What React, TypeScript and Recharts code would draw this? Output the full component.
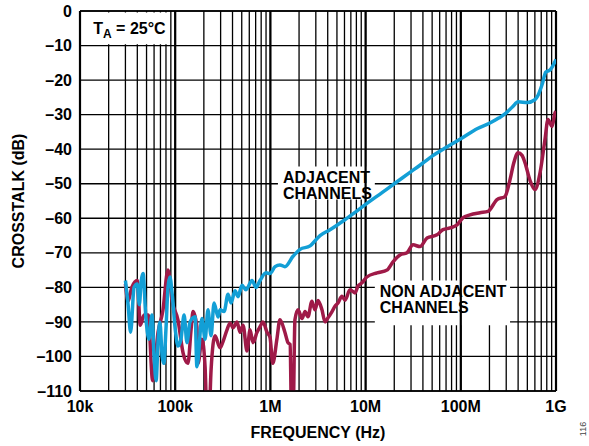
import {
    LineChart,
    Line,
    XAxis,
    YAxis,
    CartesianGrid,
    ReferenceLine,
    ReferenceArea,
} from "recharts";

// decade ticks on the frequency axis
const decades = [1e4, 1e5, 1e6, 1e7, 1e8, 1e9];
const decadeLabels = ["10k", "100k", "1M", "10M", "100M", "1G"];
const dbTicks = [0, -10, -20, -30, -40, -50, -60, -70, -80, -90, -100, -110];

// adjacent channels (blue)
const adjFreq = [
    30e3, 32e3, 34e3, 37e3, 40e3, 42e3, 44e3, 46e3, 49e3, 53e3,
    57e3, 60e3, 63e3, 66e3, 69e3, 73e3, 76e3, 80e3, 84e3, 88e3,
    93e3, 100e3, 107e3, 115e3, 124e3, 133e3, 143e3, 162e3, 169e3, 191e3,
    206e3, 221e3, 238e3, 256e3, 282e3, 296e3, 326e3, 359e3, 386e3, 425e3,
    457e3, 503e3, 554e3, 641e3, 706e3, 778e3, 899e3, 990e3, 1.12e6, 1.26e6,
    1.42e6, 1.73e6, 2.05e6, 2.61e6, 3.32e6, 4.23e6, 5e6, 6e6, 8e6, 10e6,
    15e6, 20e6, 30e6, 40e6, 50e6, 70e6, 100e6, 150e6, 200e6, 250e6,
    300e6, 350e6, 400e6, 500e6, 600e6, 650e6, 720e6, 780e6, 870e6, 1e9,
];
const adjDb = [
    -78, -85, -93, -80, -79, -85, -78, -76, -88, -95,
    -88, -100, -107, -96, -90, -100, -102, -92, -80, -77,
    -82, -92, -97, -95, -88, -96, -90, -88.5, -103, -89,
    -95, -86.5, -94, -84.5, -88.6, -86.5, -87, -82, -84.5, -81,
    -82.7, -79.4, -80.7, -78, -80, -78, -75.8, -76, -74, -73.5,
    -74, -71, -69, -68, -65, -63.3, -62, -60.5, -58, -56,
    -52.5, -50, -46.5, -44, -42, -39.5, -37, -34, -32.5, -31,
    -29.5, -27.7, -26.3, -26.5, -25.7, -24.3, -21, -17.7, -17, -14,
];

// non adjacent channels (maroon)
const nonAdjFreq = [
    30e3, 32e3, 35e3, 40e3, 43e3, 47e3, 52e3, 58e3, 66e3, 74e3,
    84e3, 93e3, 107e3, 121e3, 136e3, 147e3, 154e3, 169e3, 174e3, 191e3,
    206e3, 216e3, 226e3, 238e3, 262e3, 296e3, 318e3, 350e3, 377e3, 405e3,
    446e3, 480e3, 516e3, 568e3, 611e3, 657e3, 723e3, 778e3, 836e3, 921e3,
    990e3, 1.06e6, 1.17e6, 1.26e6, 1.42e6, 1.53e6, 1.61e6, 1.67e6, 1.73e6, 1.81e6,
    1.95e6, 2.15e6, 2.31e6, 2.48e6, 2.73e6, 2.94e6, 3.16e6, 3.48e6, 3.75e6, 4.03e6,
    4.44e6, 4.77e6, 5.13e6, 5.65e6, 6.08e6, 6.86e6, 7.74e6, 8.32e6, 9.17e6, 10.3e6,
    13.2e6, 16.8e6, 19.4e6, 23e6, 27.2e6, 31.5e6, 37.3e6, 44.2e6, 56.2e6, 65e6,
    77.1e6, 91.2e6, 105e6, 125e6, 159e6, 193e6, 240e6, 291e6, 329e6, 360e6,
    399e6, 440e6, 472e6, 533e6, 601e6, 679e6, 766e6, 824e6, 908e6, 977e6,
    1e9,
];
const nonAdjDb = [
    -79, -84, -80, -78, -91, -88, -88, -107, -93, -87,
    -75, -84, -89.5, -99, -102, -92, -87, -91.4, -102, -95,
    -103, -118, -118, -104, -94, -97.5, -95.7, -92.3, -90.3, -91.7,
    -90, -93, -91, -98.4, -92.3, -96, -93, -91.4, -90, -93,
    -94.4, -102, -95, -89.4, -93, -96, -96.5, -118, -118, -89.4,
    -86.5, -89, -87, -88.5, -84, -86.5, -83.8, -86.5, -90, -88.8,
    -87, -85.5, -84.5, -82.6, -83.7, -80.7, -81.6, -79.6, -78.7, -77,
    -75.8, -75, -72.6, -70.6, -70, -67.7, -68.2, -65.7, -64.8, -63.3,
    -62.8, -61.9, -59.9, -59, -58.4, -58, -54.6, -53.7, -48.8, -44,
    -41, -41.8, -43.9, -49, -51.7, -46.9, -37.2, -31.4, -33.4, -29.5,
    -29,
];

const adjData = adjFreq.map((f, i) => ({ f, db: adjDb[i] }));
const nonAdjData = nonAdjFreq.map((f, i) => ({ f, db: nonAdjDb[i] }));

// grid lines at 1..9 x each decade
const gridFreqs = decades.flatMap((d) =>
    d === 1e9 ? [d] : [1, 2, 3, 4, 5, 6, 7, 8, 9].map((m) => m * d)
);

const FONT = "'Liberation Sans', Arial, Helvetica, sans-serif";
const FS = 16;
const BLUE = "#139fd6";
const MAROON = "#9f1a48";

const fmtX = (v: number) => {
    const i = decades.indexOf(v);
    return i >= 0 ? decadeLabels[i] : "";
};
const fmtY = (v: number) => (v === 0 ? "0" : "\u2013" + Math.abs(v));

function BoxText({ viewBox, lines }: any) {
    if (!viewBox) return null;
    return (
        <text
            x={viewBox.x + 5}
            y={viewBox.y + 17}
            fontFamily={FONT}
            fontWeight={700}
            fontSize={FS}
            fill="#000"
        >
            {lines.map((l: string, i: number) => (
                <tspan key={i} x={viewBox.x + 5} dy={i === 0 ? 0 : 16}>
                    {l}
                </tspan>
            ))}
        </text>
    );
}

function TempText({ viewBox }: any) {
    if (!viewBox) return null;
    return (
        <text
            x={viewBox.x + 12}
            y={viewBox.y + 22}
            fontFamily={FONT}
            fontWeight={700}
            fontSize={FS}
            fill="#000"
        >
            <tspan>T</tspan>
            <tspan dy={4} fontSize={12}>A</tspan>
            <tspan dy={-4}> = 25°C</tspan>
        </text>
    );
}

export default function App() {
    return (
        <div style={{ position: "absolute", left: 0, top: 0, background: "#fff" }}>
            <LineChart
                width={589}
                height={446}
                margin={{ top: 11, right: 33, left: 0, bottom: 0 }}
            >
                <CartesianGrid stroke="#000" strokeWidth={1.3} />
                <XAxis
                    dataKey="f"
                    type="number"
                    scale="log"
                    domain={[1e4, 1e9]}
                    ticks={gridFreqs}
                    interval={0}
                    tickFormatter={fmtX}
                    tickLine={false}
                    tickSize={0}
                    tickMargin={10}
                    height={55}
                    axisLine={{ stroke: "#000", strokeWidth: 1.5 }}
                    tick={{ fill: "#000", fontSize: FS, fontWeight: 700, fontFamily: FONT }}
                    allowDataOverflow
                    label={{
                        value: "FREQUENCY (Hz)",
                        position: "insideBottom",
                        offset: 8,
                        fill: "#000",
                        fontSize: FS,
                        fontWeight: 700,
                        fontFamily: FONT,
                    }}
                />
                <YAxis
                    type="number"
                    domain={[-110, 0]}
                    ticks={dbTicks}
                    interval={0}
                    tickFormatter={fmtY}
                    tickLine={false}
                    tickSize={0}
                    tickMargin={8}
                    width={80}
                    axisLine={{ stroke: "#000", strokeWidth: 1.5 }}
                    tick={{ fill: "#000", fontSize: FS, fontWeight: 700, fontFamily: FONT }}
                    allowDataOverflow
                    label={(p: any) => {
                        const vb = p.viewBox || { x: 0, y: 11, width: 80, height: 380 };
                        const cx = vb.x + 18;
                        const cy = vb.y + vb.height / 2;
                        return (
                            <text
                                x={cx}
                                y={cy}
                                transform={`rotate(-90 ${cx} ${cy})`}
                                textAnchor="middle"
                                dominantBaseline="central"
                                fontFamily={FONT}
                                fontWeight={700}
                                fontSize={FS}
                                fill="#000"
                            >
                                CROSSTALK (dB)
                            </text>
                        );
                    }}
                />
                {decades.map((d) => (
                    <ReferenceLine key={d} x={d} stroke="#000" strokeWidth={2.2} />
                ))}
                <ReferenceLine y={0} stroke="#000" strokeWidth={1.5} />
                <ReferenceArea
                    x1={1.03e4}
                    x2={8.5e4}
                    y1={-0.4}
                    y2={-9.6}
                    fill="#fff"
                    fillOpacity={1}
                    stroke="none"
                    label={(p: any) => <TempText viewBox={p.viewBox} />}
                />
                <ReferenceArea
                    x1={1.2e6}
                    x2={12.5e6}
                    y1={-45}
                    y2={-54.6}
                    fill="#fff"
                    fillOpacity={1}
                    stroke="none"
                    label={(p: any) => (
                        <BoxText viewBox={p.viewBox} lines={["ADJACENT", "CHANNELS"]} />
                    )}
                />
                <ReferenceArea
                    x1={12.5e6}
                    x2={329e6}
                    y1={-78}
                    y2={-91}
                    fill="#fff"
                    fillOpacity={1}
                    stroke="none"
                    label={(p: any) => (
                        <BoxText viewBox={p.viewBox} lines={["NON ADJACENT", "CHANNELS"]} />
                    )}
                />
                <Line
                    data={nonAdjData}
                    dataKey="db"
                    type="monotone"
                    stroke={MAROON}
                    strokeWidth={3.5}
                    dot={false}
                    isAnimationActive={false}
                />
                <Line
                    data={adjData}
                    dataKey="db"
                    type="monotone"
                    stroke={BLUE}
                    strokeWidth={3.5}
                    dot={false}
                    isAnimationActive={false}
                />
            </LineChart>
            <div
                style={{
                    position: "absolute",
                    left: 576,
                    top: 424,
                    fontFamily: FONT,
                    fontSize: 9,
                    color: "#444",
                    transform: "rotate(-90deg)",
                }}
            >
                116
            </div>
        </div>
    );
}
